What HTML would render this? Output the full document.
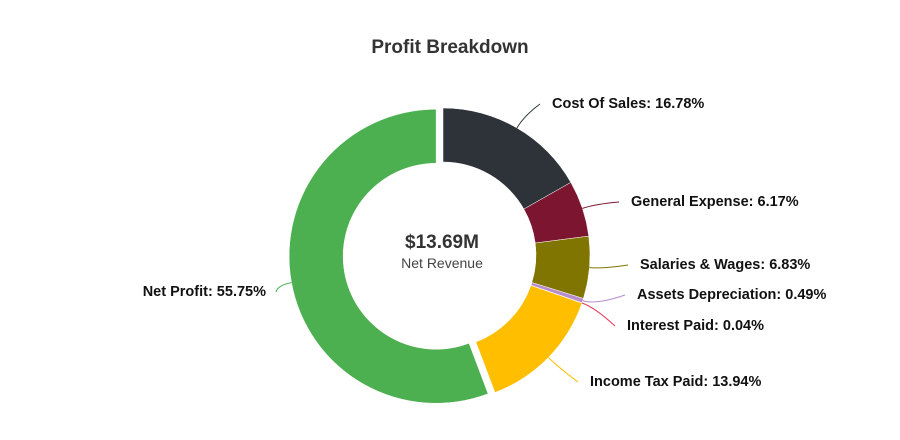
<!DOCTYPE html>
<html><head><meta charset="utf-8"><style>
body{margin:0;background:#fff;width:900px;height:435px;overflow:hidden;font-family:"Liberation Sans",sans-serif}
svg text{font-family:"Liberation Sans",sans-serif}
</style></head><body>
<svg id="c" width="900" height="435">
<text x="450" y="53" text-anchor="middle" font-size="19" font-weight="bold" fill="#333">Profit Breakdown</text>
<g id="slices"></g><g id="labels"></g>
<text x="442" y="248" text-anchor="middle" font-size="19" font-weight="bold" fill="#333">$13.69M</text>
<text x="442" y="268" text-anchor="middle" font-size="14" fill="#444">Net Revenue</text>
</svg>
<script>
const categories=["Cost Of Sales","General Expense","Salaries & Wages","Assets Depreciation","Interest Paid","Income Tax Paid","Net Profit"];
const values=[16.78,6.17,6.83,0.49,0.04,13.94,55.75];
const colors=["#2d3339","#7b1530","#7f7500","#b98ccc","#e8355a","#ffbe00","#4caf50"];
const labelPos=[[552,108],[631,206],[640,269],[637,299],[627,330],[590,386],[266,296]];
const cx=443,cy=255,R=147,r=93;
const ns="http://www.w3.org/2000/svg";
const total=values.reduce((a,b)=>a+b,0);
const sg=document.getElementById('slices'),lg=document.getElementById('labels');
function pt(a,rad,ox,oy){return [cx+ox+rad*Math.sin(a),cy+oy-rad*Math.cos(a)];}
let acc=0;
values.forEach((v,i)=>{
  const a0=acc/total*2*Math.PI;acc+=v;const a1=acc/total*2*Math.PI;
  const am=(a0+a1)/2;const ex=i===6?7:0;
  const ox=ex*Math.sin(am),oy=-ex*Math.cos(am);
  const large=(a1-a0)>Math.PI?1:0;
  const p0=pt(a0,R,ox,oy),p1=pt(a1,R,ox,oy),q1=pt(a1,r,ox,oy),q0=pt(a0,r,ox,oy);
  const p=document.createElementNS(ns,'path');
  p.setAttribute('d',`M${p0}A${R},${R} 0 ${large} 1 ${p1}L${q1}A${r},${r} 0 ${large} 0 ${q0}Z`);
  p.setAttribute('fill',colors[i]);p.setAttribute('stroke','#fff');p.setAttribute('stroke-width','0.5');
  
  
  sg.appendChild(p);
  const s=pt(am,R,ox,oy),e=pt(am,R+14,ox,oy);
  const [lx,ly]=labelPos[i];const left=i===6;
  const endX=left?lx+10:lx-12,endY=ly-4;
  const l=document.createElementNS(ns,'path');
  l.setAttribute('d',`M${s}Q${e} ${endX},${endY}`);
  l.setAttribute('fill','none');l.setAttribute('stroke',colors[i]);l.setAttribute('stroke-width','1');
  
  
  lg.appendChild(l);
  const t=document.createElementNS(ns,'text');
  t.setAttribute('x',lx);t.setAttribute('y',ly);t.setAttribute('font-size','14.5');t.setAttribute('font-weight','bold');t.setAttribute('fill','#111');
  if(left)t.setAttribute('text-anchor','end');
  t.textContent=categories[i]+': '+v.toFixed(2)+'%';
  
  
  lg.appendChild(t);
});
</script>
</body></html>
